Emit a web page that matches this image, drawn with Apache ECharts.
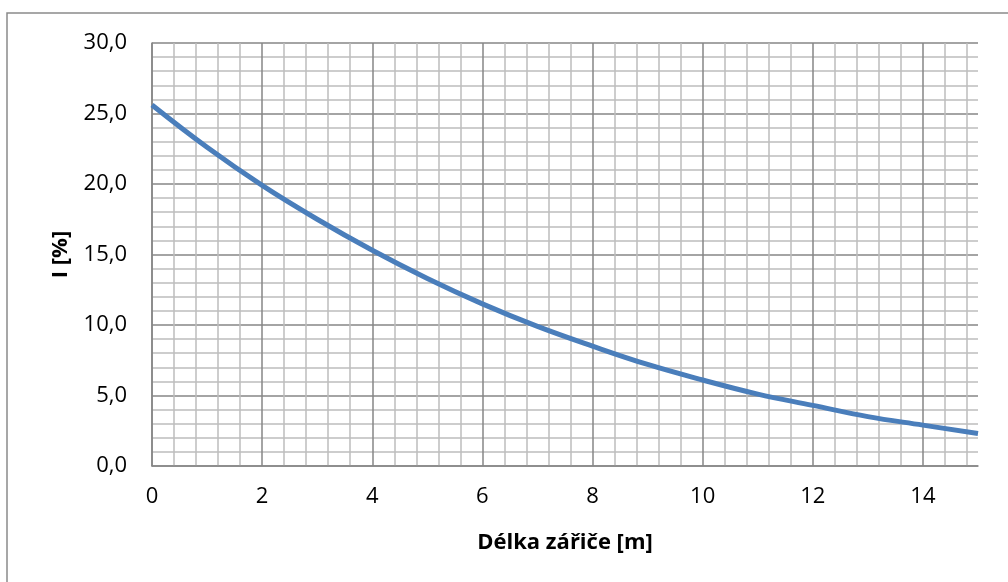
<!DOCTYPE html>
<html>
<head>
<meta charset="utf-8">
<script src="https://cdn.jsdelivr.net/npm/echarts@6/dist/echarts.min.js"></script>
<style>
  html, body { margin: 0; padding: 0; background: #fff; }
  #chart { width: 1008px; height: 582px; }
</style>
</head>
<body>
<div id="chart"></div>
<script>
// length of the radiator [m] and intensity I [%]
const lengths = [0, 1, 2, 3, 4, 5, 6, 7, 8, 9, 10, 11, 12, 13, 14, 15];
const intensity = [25.6, 22.6, 19.9, 17.5, 15.3, 13.3, 11.5, 9.9, 8.5, 7.2, 6.1, 5.1, 4.3, 3.5, 2.9, 2.3];

const xName = 'Délka zářiče [m]';
const yName = 'I [%]';

const darkGrid = '#868686';
const lightGrid = '#bdbdbd';
const font = '"Open Sans", sans-serif';

const isMultiple = (v, step) => Math.abs(v / step - Math.round(v / step)) < 1e-6;

const chart = echarts.init(document.getElementById('chart'));

chart.setOption({
    animation: false,
    backgroundColor: '#fff',
    textStyle: { fontFamily: font, color: '#000' },
    graphic: [
        {
            type: 'rect',
            shape: { x: 7, y: 13, width: 1100, height: 700 },
            style: { fill: 'none', stroke: '#8a8a8a', lineWidth: 1.5 },
            silent: true
        }
    ],
    grid: { left: 152, right: 30, top: 43, bottom: 116 },
    xAxis: {
        type: 'value',
        min: 0,
        max: 15,
        interval: 0.4,
        name: xName,
        nameLocation: 'middle',
        nameGap: 66,
        nameTextStyle: { fontFamily: font, fontSize: 22, fontWeight: 'bold', color: '#000' },
        axisLine: { show: true, lineStyle: { color: darkGrid, width: 1.5 } },
        axisTick: { show: false },
        axisLabel: {
            margin: 20,
            fontSize: 22,
            color: '#000',
            showMaxLabel: false,
            formatter: v => isMultiple(v, 2) ? String(Math.round(v)) : ''
        },
        splitLine: {
            show: true,
            showMaxLine: false,
            lineStyle: { color: [darkGrid, lightGrid, lightGrid, lightGrid, lightGrid], width: 1.5 }
        }
    },
    yAxis: {
        type: 'value',
        min: 0,
        max: 30,
        interval: 1,
        name: yName,
        nameLocation: 'middle',
        nameGap: 80,
        nameRotate: 90,
        nameTextStyle: { fontFamily: font, fontSize: 22, fontWeight: 'bold', color: '#000' },
        axisLine: { show: true, lineStyle: { color: darkGrid, width: 1.5 } },
        axisTick: { show: false },
        axisLabel: {
            margin: 25,
            fontSize: 22,
            color: '#000',
            formatter: v => isMultiple(v, 5) ? v.toFixed(1).replace('.', ',') : ''
        },
        splitLine: {
            show: true,
            lineStyle: { color: [darkGrid, lightGrid, lightGrid, lightGrid, lightGrid], width: 1.5 }
        }
    },
    series: [
        {
            type: 'line',
            data: lengths.map((x, i) => [x, intensity[i]]),
            smooth: 0.4,
            showSymbol: false,
            symbol: 'none',
            lineStyle: { color: '#4a7ebb', width: 5 },
            z: 5
        }
    ]
});
</script>
</body>
</html>
